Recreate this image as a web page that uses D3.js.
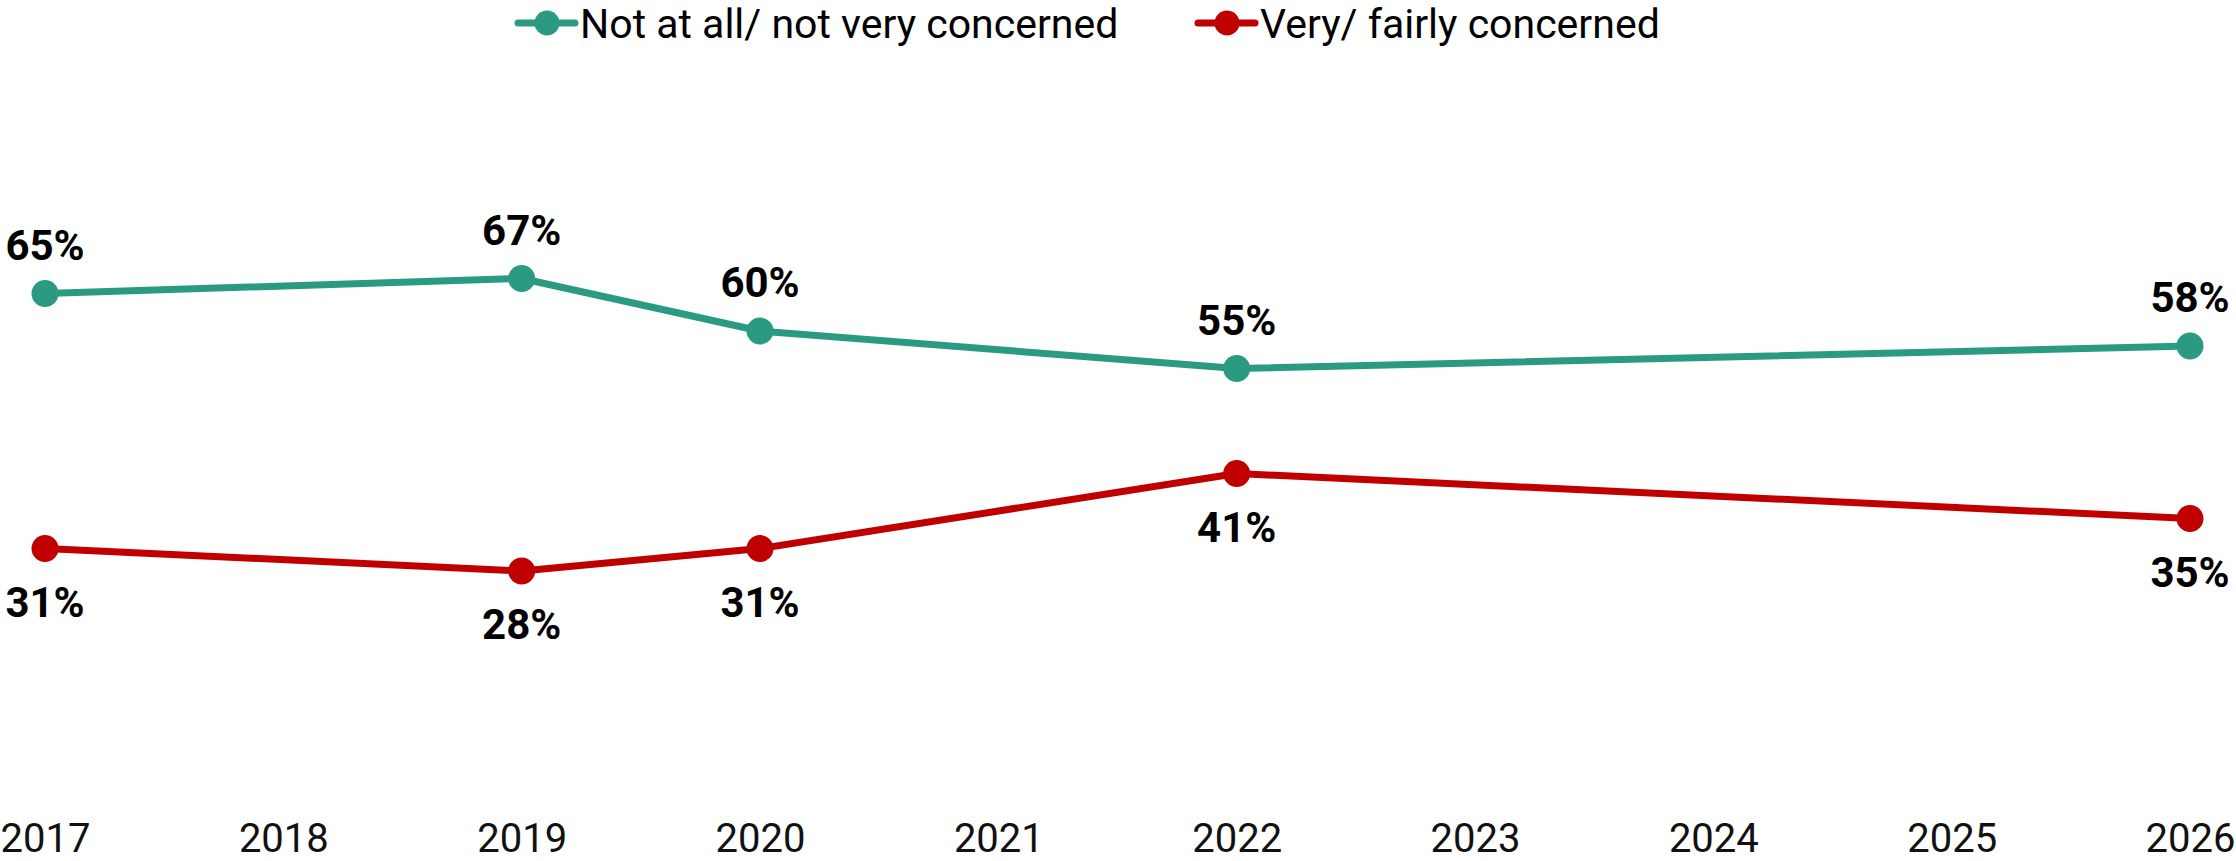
<!DOCTYPE html>
<html>
<head>
<meta charset="utf-8">
<script src="https://cdn.jsdelivr.net/npm/d3@7"></script>
<style>
  html, body { margin: 0; padding: 0; background: #fff; }
  svg { display: block; }
  text { font-family: Roboto, "Noto Sans", sans-serif; }
</style>
</head>
<body>
<svg id="chart" width="2236" height="861"></svg>
<script>
// ---- data ----
const years = [2017, 2019, 2020, 2022, 2026];
const tickYears = [2017, 2018, 2019, 2020, 2021, 2022, 2023, 2024, 2025, 2026];
const notConcerned = [65, 67, 60, 55, 58];
const concerned = [31, 28, 31, 41, 35];
const seriesNames = ["Not at all/ not very concerned", "Very/ fairly concerned"];
const seriesColors = ["#2A9A83", "#C00000"];

const W = 2236, H = 861;
const svg = d3.select("#chart");

const x = d3.scaleLinear().domain([2017, 2026]).range([45, 2190]);
const y = d3.scaleLinear().domain([0, 100]).range([781, 31]);

// x axis
const axis = d3.axisBottom(x)
  .tickValues(tickYears)
  .tickFormat(d3.format("d"))
  .tickSize(0);
const gx = svg.append("g").attr("transform", "translate(0,820)").call(axis);
gx.select(".domain").remove();
gx.selectAll("text")
  .attr("y", 32).attr("dy", 0)
  .style("font-family", "Roboto, sans-serif")
  .style("font-size", "40px")
  .attr("fill", "#111");

const series = [
  { name: seriesNames[0], color: seriesColors[0], values: notConcerned, above: true },
  { name: seriesNames[1], color: seriesColors[1], values: concerned, above: false }
];

const line = d3.line().x(d => x(d.year)).y(d => y(d.v));

series.forEach(s => {
  const pts = years.map((yr, i) => ({ year: yr, v: s.values[i] }));
  const g = svg.append("g");
  g.append("path")
    .datum(pts)
    .attr("d", line)
    .attr("fill", "none")
    .attr("stroke", s.color)
    .attr("stroke-width", 7)
    .attr("stroke-linejoin", "round");
  g.selectAll("circle")
    .data(pts)
    .join("circle")
    .attr("cx", d => x(d.year))
    .attr("cy", d => y(d.v))
    .attr("r", 13.5)
    .attr("fill", s.color);
  g.selectAll("text.lbl")
    .data(pts)
    .join("text")
    .attr("class", "lbl")
    .attr("x", d => x(d.year))
    .attr("y", d => y(d.v) + (s.above ? -34 : 68))
    .attr("text-anchor", "middle")
    .style("font-size", "42px")
    .style("font-weight", "700")
    .attr("fill", "#000")
    .text(d => d.v + "%");
});

// legend
const legendItems = [
  { name: seriesNames[0], color: seriesColors[0], x0: 518 },
  { name: seriesNames[1], color: seriesColors[1], x0: 1198 }
];
legendItems.forEach(it => {
  const g = svg.append("g").attr("transform", `translate(${it.x0},23)`);
  g.append("line")
    .attr("x1", 0).attr("x2", 57).attr("y1", 0).attr("y2", 0)
    .attr("stroke", it.color).attr("stroke-width", 7).attr("stroke-linecap", "round");
  g.append("circle").attr("cx", 29).attr("cy", 0).attr("r", 12.5).attr("fill", it.color);
  g.append("text")
    .attr("x", 62).attr("y", 15)
    .style("font-size", "41px")
    .attr("fill", "#000")
    .text(it.name);
});
</script>
</body>
</html>
